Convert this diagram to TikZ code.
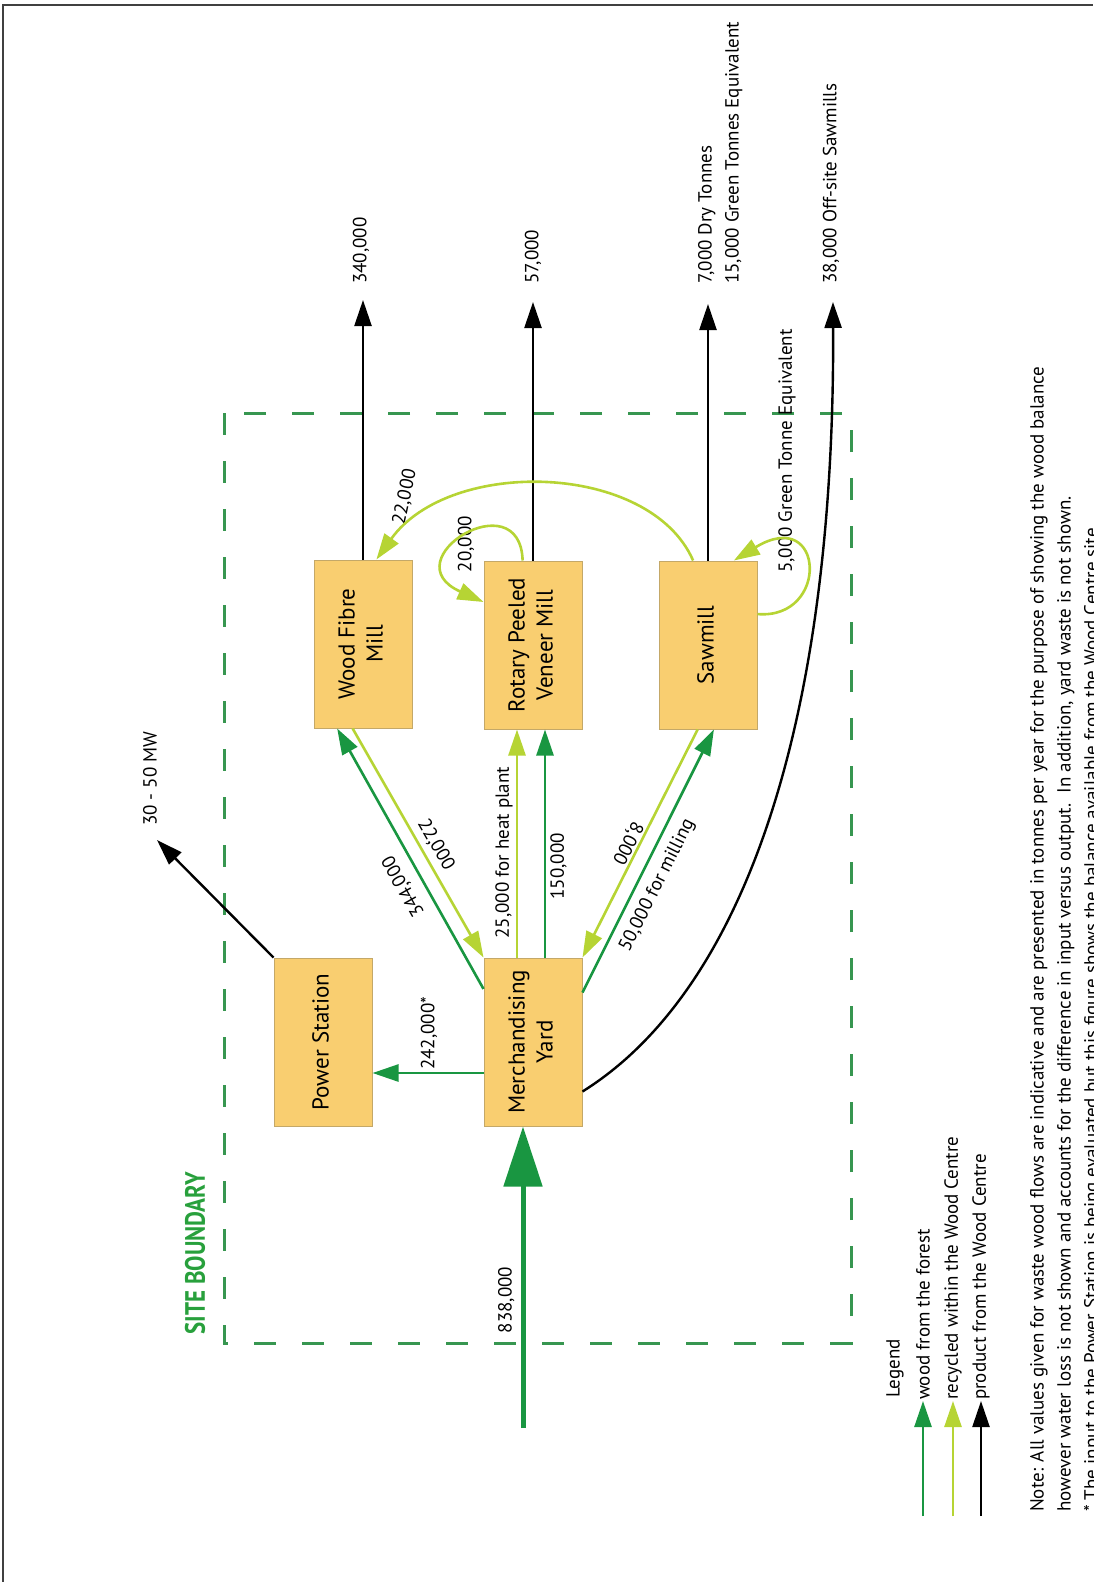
\documentclass[tikz,border=0pt]{standalone}
\usepackage{fontspec}
\setmainfont{PT Sans}
\usepackage{graphicx}
\usepackage{tikz}
\usepackage{xcolor}
\usetikzlibrary{positioning,arrows.meta}

\definecolor{woodgreen}{RGB}{25,150,65}
\definecolor{recyclegreen}{RGB}{182,212,52}
\definecolor{boxfill}{RGB}{249,206,112}
\definecolor{boxline}{RGB}{196,168,104}
\definecolor{sitegreen}{RGB}{55,150,80}
\definecolor{sitetext}{RGB}{40,160,60}

\newcommand{\boxtext}[1]{\rotatebox{90}{\begin{tabular}{@{}c@{}}#1\end{tabular}}}

\tikzset{
  millbox/.style={rectangle, draw=boxline, line width=1pt, fill=boxfill,
    minimum width=98pt, minimum height=168pt, inner sep=0pt,
    font=\fontsize{23}{28}\selectfont},
  lbl/.style={inner sep=2pt, font=\fontsize{19}{27}\selectfont},
  flowtip/.style={-{Triangle[length=26pt,width=17pt]}},
  wood/.style={draw=woodgreen, line width=2.6pt, flowtip},
  recycled/.style={draw=recyclegreen, line width=2.6pt, flowtip},
  product/.style={draw=black, line width=2.4pt, flowtip},
}

\begin{document}
\begin{tikzpicture}[x=1pt, y=-1pt]
      %\draw [dotted] (0,0) grid[step=100] (1093,1582);
      \useasboundingbox (0,0) rectangle (1093,1582);
      \draw [black!75, line width=2.5pt] (3,1582) -- (3,5) -- (1093,5);
      \draw [sitegreen, line width=3pt, dash pattern=on 22pt off 26pt] (224,413) rectangle (851,1343);
      \node [rotate=90, anchor=west, text=sitetext, font=\bfseries\fontsize{28}{30}\selectfont] (site) at (195,1338) {\scalebox{0.82}[1]{SITE BOUNDARY}};
      \node [millbox] (wfm)  at (363, 644) {\boxtext{Wood Fibre\\Mill}};
      \node [millbox] (rpvm) at (533, 645) {\boxtext{Rotary Peeled\\Veneer Mill}};
      \node [millbox] (saw)  at (708, 645) {\boxtext{Sawmill}};
      \node [millbox] (ps)   at (323,1042) {\boxtext{Power Station}};
      \node [millbox] (my)   at (533,1042) {\boxtext{Merchandising\\Yard}};
      \coordinate (wfmout)  at (363, 300);
      \coordinate (rpvmout) at (533, 302);
      \coordinate (sawout)  at (708, 304);
      \coordinate (offsite) at (833, 302);
      \coordinate (power)   at (157, 840);
      \coordinate (forest)  at (523,1428);
      \node [lbl, rotate=90, anchor=west] (l340) at (361, 286) {340,000};
      \node [lbl, rotate=90, anchor=west] (l57)  at (533, 286) {57,000};
      \node [lbl, rotate=90, anchor=north west, align=left] (lsaw) at (696, 286) {7,000 Dry Tonnes\\15,000 Green Tonnes Equivalent};
      \node [lbl, rotate=90, anchor=west] (loff) at (831, 286) {38,000 Off-site Sawmills};
      \node [lbl, rotate=90, anchor=west] (lmw)  at (150, 828) {30 - 50 MW};
      \node [lbl, rotate=90, anchor=west] (l5)   at (787, 575) {5,000 Green Tonne Equivalent};
      \node [lbl, rotate=90]              (l20)  at (466, 544) {20,000};
      \node [lbl, rotate=78]              (l22a) at (405, 497) {22,000};
      \draw [product] (wfm.north) -- (wfmout);
      \draw [product] (rpvm.north) -- (rpvmout);
      \draw [product] (saw.north) -- (sawout);
      \draw [product] (ps.north west) -- (power);
      \draw [product] (my.-45) .. controls (745,990) and (835,720) .. (offsite);
      \draw [wood] (my.133) -- node [lbl, sloped, allow upside down, above=8pt, pos=0.43] (l344) {344,000} (wfm.253);
      \draw [recycled] (wfm.263) -- node [lbl, sloped, allow upside down, above=3pt, pos=0.54] (l22b) {22,000} (my.north west);
      \draw [recycled] ([xshift=-16pt]my.north) -- node [lbl, sloped, above=1pt, pos=0.46] (l25) {25,000 for heat plant} ([xshift=-16pt]rpvm.south);
      \draw [wood] ([xshift=12pt]my.north) -- node [lbl, sloped, below=2pt, pos=0.40] (l150) {150,000} ([xshift=12pt]rpvm.south);
      \draw [recycled] (saw.263) -- node [lbl, sloped, allow upside down, below=0pt, pos=0.52] (l8) {8,000} (my.north east);
      \draw [wood] (my.45) -- node [lbl, sloped, allow upside down, below=7pt, pos=0.44] (l50) {50,000 for milling} (saw.274);
      \draw [wood] ([yshift=-31pt]my.west) -- node [lbl, rotate=90, anchor=west, pos=0.49] (l242) {242,000*} ([yshift=-31pt]ps.east);
      \draw [wood, line width=5pt, -{Triangle[length=60pt,width=38pt]}] (forest) -- node [lbl, sloped, above=4pt, pos=0.425] (l838) {838,000} ([xshift=-10pt]my.south);
      \draw [recycled] (rpvm.97) .. controls (520,480) and (390,560) .. (rpvm.139);
      \draw [recycled] (saw.32) .. controls (830,620) and (825,505) .. (saw.73);
      \draw [recycled] (saw.100) .. controls (650,462) and (450,457) .. (wfm.81);
      \node [lbl, rotate=90, anchor=west] (leg) at (895,1400) {Legend};
      \coordinate (lg1) at (923,1516);
      \coordinate (lg2) at (953,1516);
      \coordinate (lg3) at (981,1516);
      \node [lbl, rotate=90, anchor=west, inner sep=1pt] (lgt1) at (923,1401) {wood from the forest};
      \node [lbl, rotate=90, anchor=west, inner sep=1pt] (lgt2) at (953,1401) {recycled within the Wood Centre};
      \node [lbl, rotate=90, anchor=west, inner sep=1pt] (lgt3) at (981,1401) {product from the Wood Centre};
      \draw [wood] (lg1) -- (lgt1.west);
      \draw [recycled] (lg2) -- (lgt2.west);
      \draw [product] (lg3) -- (lgt3.west);
      \node [lbl, rotate=90, anchor=north west, align=left, inner sep=0pt] (note) at (1030,1512) {Note: All values given for waste wood flows are indicative and are presented in tonnes per year for the purpose of showing the wood balance\\however water loss is not shown and accounts for the difference in input versus output.\ \ In addition, yard waste is not shown.\\* The input to the Power Station is being evaluated but this figure shows the balance available from the Wood Centre site.};
\end{tikzpicture}
\end{document}
